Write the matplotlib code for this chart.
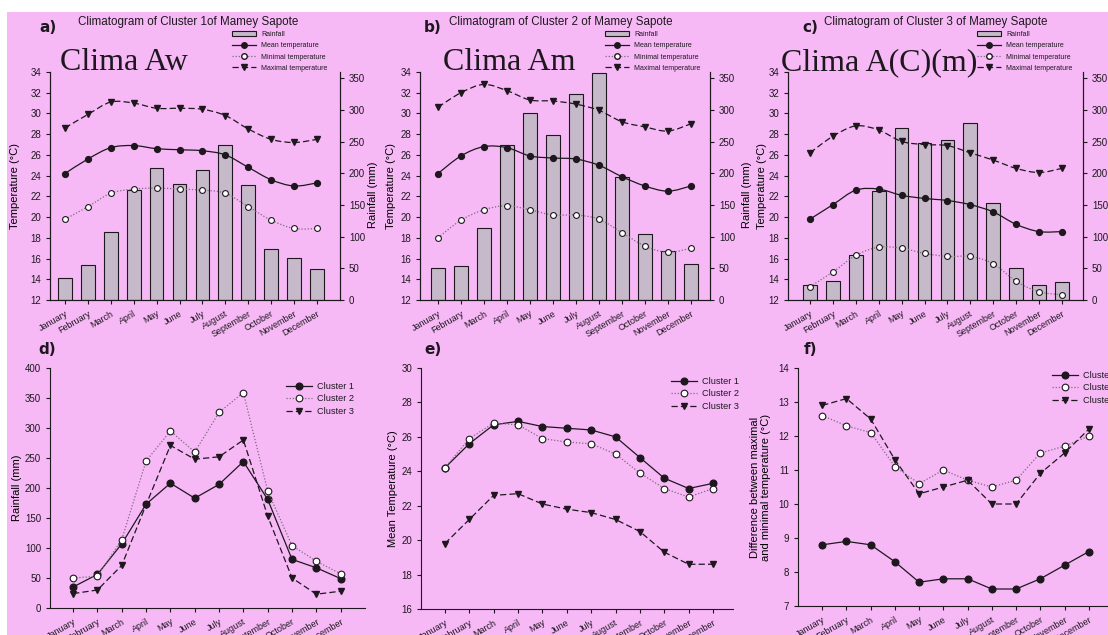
import matplotlib
matplotlib.use("Agg")
import matplotlib.pyplot as plt
from matplotlib.path import Path
from matplotlib.patches import PathPatch, Rectangle
from matplotlib.lines import Line2D

months = ["January", "February", "March", "April", "May", "June", "July",
          "August", "September", "October", "November", "December"]

# rainfall (mm)
rain_c1 = [35, 56, 107, 173, 208, 183, 206, 244, 181, 81, 67, 49]
rain_c2 = [50, 53, 114, 245, 295, 260, 326, 359, 195, 104, 78, 57]
rain_c3 = [24, 30, 71, 172, 271, 248, 252, 280, 153, 50, 23, 28]

# temperatures (degC)
mean_c1 = [24.2, 25.6, 26.7, 26.9, 26.6, 26.5, 26.4, 26.0, 24.8, 23.6, 23.0, 23.3]
min_c1 = [19.8, 21.0, 22.3, 22.7, 22.8, 22.7, 22.6, 22.3, 21.0, 19.7, 18.9, 18.9]
max_c1 = [28.6, 29.9, 31.1, 31.0, 30.5, 30.5, 30.4, 29.8, 28.5, 27.5, 27.2, 27.5]

mean_c2 = [24.2, 25.9, 26.8, 26.7, 25.9, 25.7, 25.6, 25.0, 23.9, 23.0, 22.5, 23.0]
min_c2 = [18.0, 19.7, 20.7, 21.1, 20.7, 20.2, 20.2, 19.8, 18.5, 17.2, 16.6, 17.0]
max_c2 = [30.6, 32.0, 32.8, 32.2, 31.3, 31.2, 30.9, 30.3, 29.2, 28.7, 28.3, 29.0]

mean_c3 = [19.8, 21.2, 22.6, 22.7, 22.1, 21.8, 21.6, 21.2, 20.5, 19.3, 18.6, 18.6]
min_c3 = [13.3, 14.7, 16.3, 17.1, 17.0, 16.5, 16.2, 16.2, 15.5, 13.8, 12.8, 12.5]
max_c3 = [26.2, 27.8, 28.8, 28.4, 27.3, 27.0, 26.9, 26.2, 25.5, 24.7, 24.3, 24.7]

# max - min difference (degC)
diff_c1 = [8.8, 8.9, 8.8, 8.3, 7.7, 7.8, 7.8, 7.5, 7.5, 7.8, 8.2, 8.6]
diff_c2 = [12.6, 12.3, 12.1, 11.1, 10.6, 11.0, 10.7, 10.5, 10.7, 11.5, 11.7, 12.0]
diff_c3 = [12.9, 13.1, 12.5, 11.3, 10.3, 10.5, 10.7, 10.0, 10.0, 10.9, 11.5, 12.2]

W, H = 1108, 635
PINK = "#f6b9f6"
INK = "#1e181e"
BAR = "#c6b9ca"
GREY = "#7c6c7c"

plt.rcParams["font.family"] = ["Liberation Sans", "DejaVu Sans"]
plt.rcParams["text.color"] = INK
plt.rcParams["axes.edgecolor"] = INK
plt.rcParams["xtick.color"] = INK
plt.rcParams["ytick.color"] = INK

fig = plt.figure(figsize=(W / 100, H / 100), dpi=100)
fig.patch.set_facecolor("white")
fig.patches.append(Rectangle((7 / W, 0), 1, 1 - 12 / H, transform=fig.transFigure,
                             facecolor=PINK, edgecolor="none", zorder=-10))


def box(left, top, right, bottom):
    return [left / W, 1 - bottom / H, (right - left) / W, (bottom - top) / H]


def smooth(ax, x, y, **kw):
    # catmull-rom curve drawn as bezier path through the data points
    verts = [(x[0], y[0])]
    codes = [Path.MOVETO]
    n = len(x)
    for i in range(n - 1):
        p0 = (x[max(i - 1, 0)], y[max(i - 1, 0)])
        p1 = (x[i], y[i])
        p2 = (x[i + 1], y[i + 1])
        p3 = (x[min(i + 2, n - 1)], y[min(i + 2, n - 1)])
        c1 = (p1[0] + (p2[0] - p0[0]) / 6, p1[1] + (p2[1] - p0[1]) / 6)
        c2 = (p2[0] - (p3[0] - p1[0]) / 6, p2[1] - (p3[1] - p1[1]) / 6)
        verts += [c1, c2, p2]
        codes += [Path.CURVE4] * 3
    ax.add_patch(PathPatch(Path(verts, codes), facecolor="none", **kw))


def month_ticks(ax, size):
    ax.set_xticks(range(12))
    ax.set_xticklabels(months, rotation=30, ha="right", rotation_mode="anchor",
                       fontsize=size)


def climatogram(pos, xlim, rain, tmean, tmin, tmax, letter, title, clima,
                tx, lx, clima_x, leg_x, lab_l, lab_r):
    ax = fig.add_axes(box(*pos))
    ax.set_facecolor("none")
    ax2 = ax.twinx()
    x = list(range(12))
    ax2.bar(x, rain, width=0.6, color=BAR, edgecolor=INK, linewidth=0.8, zorder=1)
    ax2.set_ylim(0, 360)
    ax2.set_yticks(range(0, 351, 50))
    ax2.tick_params(labelsize=7, length=3)
    ax2.set_ylabel("Rainfall (mm)", fontsize=8, rotation=90)
    ax2.yaxis.set_label_coords(lab_r, 0.46)
    ax.set_zorder(ax2.get_zorder() + 1)

    smooth(ax, x, tmax, edgecolor=INK, lw=0.9, ls=(0, (5, 2.5)))
    smooth(ax, x, tmean, edgecolor=INK, lw=0.9)
    smooth(ax, x, tmin, edgecolor=GREY, lw=0.9, ls=(0, (1, 1.5)))
    ax.plot(x, tmax, ls="none", marker="v", ms=4.2, color=INK)
    ax.plot(x, tmean, ls="none", marker="o", ms=4.2, color=INK)
    ax.plot(x, tmin, ls="none", marker="o", ms=4.2, mfc="white", mec=INK, mew=0.8)

    ax.set_xlim(*xlim)
    ax.set_ylim(12, 34)
    ax.set_yticks(range(12, 35, 2))
    ax.tick_params(labelsize=7, length=3)
    month_ticks(ax, 6.5)
    ax.set_ylabel("Temperature (\u00b0C)", fontsize=8)
    ax.yaxis.set_label_coords(lab_l, 0.5)
    for a in (ax, ax2):
        a.spines["top"].set_visible(False)

    fig.text(lx / W, 1 - 27 / H, letter, fontsize=11, fontweight="bold",
             family="DejaVu Sans", va="center")
    fig.text(tx / W, 1 - 22 / H, title, fontsize=8.4, ha="center", va="center")
    fig.text(clima_x / W, 1 - 63 / H, clima, fontsize=23, family="Liberation Serif",
             va="center")

    handles = [Rectangle((0, 0), 1, 1, facecolor=BAR, edgecolor=INK, lw=0.8),
               Line2D([], [], color=INK, lw=0.9, marker="o", ms=4),
               Line2D([], [], color=GREY, lw=0.9, ls=(0, (1, 1.5)), marker="o", ms=4,
                      mfc="white", mec=INK),
               Line2D([], [], color=INK, lw=0.9, ls=(0, (5, 2.5)), marker="v", ms=4)]
    fig.legend(handles, ["Rainfall", "Mean temperature", "Minimal temperature",
                         "Maximal temperature"],
               loc="upper left", bbox_to_anchor=(leg_x / W, 1 - 31 / H),
               frameon=False, fontsize=5.0, labelspacing=0.62, handlelength=3.4,
               handletextpad=0.8, borderpad=0, borderaxespad=0)


climatogram((50, 72, 340, 300), (-0.65, 12.0), rain_c1, mean_c1, min_c1, max_c1,
            "a)", "Climatogram of Cluster 1of Mamey Sapote", "Clima Aw",
            188, 39, 60, 232, -0.103, 1.097)
climatogram((420, 72, 710, 300), (-0.78, 11.83), rain_c2, mean_c2, min_c2, max_c2,
            "b)", "Climatogram of Cluster 2 of Mamey Sapote", "Clima Am",
            561, 424, 443, 605, -0.083, 1.11)
climatogram((788, 72, 1083, 300), (-0.96, 11.92), rain_c3, mean_c3, min_c3, max_c3,
            "c)", "Climatogram of Cluster 3 of Mamey Sapote", "Clima A(C)(m)",
            936, 802, 781, 977, -0.071, 1.12)


def cluster_panel(pos, xlim, ylim, yticks, s1, s2, s3, letter, lx, ylabel, lab_x, leg):
    ax = fig.add_axes(box(*pos))
    ax.set_facecolor("none")
    x = list(range(12))
    ax.plot(x, s1, color=INK, lw=0.9, marker="o", ms=4.8, label="Cluster 1")
    ax.plot(x, s2, color=GREY, lw=0.9, ls=(0, (1, 1.5)), marker="o", ms=4.8,
            mfc="white", mec=INK, mew=0.8, label="Cluster 2")
    ax.plot(x, s3, color=INK, lw=0.9, ls=(0, (5, 2.5)), marker="v", ms=4.8,
            label="Cluster 3")
    ax.set_xlim(*xlim)
    ax.set_ylim(*ylim)
    ax.set_yticks(yticks)
    ax.tick_params(labelsize=7, length=3)
    month_ticks(ax, 6.5)
    ax.spines["top"].set_visible(False)
    ax.spines["right"].set_visible(False)
    ax.set_ylabel(ylabel, fontsize=8, linespacing=1.1)
    ax.yaxis.set_label_coords(lab_x, 0.5)
    fig.text(lx / W, 1 - 350 / H, letter, fontsize=11, fontweight="bold",
             family="DejaVu Sans", va="center")
    fig.legend(*ax.get_legend_handles_labels(), loc="upper left",
               bbox_to_anchor=(leg[0] / W, 1 - leg[1] / H), frameon=False,
               fontsize=6.6, labelspacing=0.38, handlelength=2.8, handletextpad=0.6,
               borderpad=0, borderaxespad=0)


cluster_panel((50, 368, 365, 608), (-0.95, 12.0), (0, 400), range(0, 401, 50),
              rain_c1, rain_c2, rain_c3, "d)", 38, "Rainfall (mm)", -0.089, (286, 382))
cluster_panel((421, 368, 733, 609), (-0.98, 11.82), (16, 30), range(16, 31, 2),
              mean_c1, mean_c2, mean_c3, "e)", 424, "Mean Temperature (\u00b0C)", -0.074,
              (671, 377))
cluster_panel((798, 368, 1113, 606), (-1.0, 12.0), (7, 14), range(7, 15),
              diff_c1, diff_c2, diff_c3, "f)", 804,
              "Difference between maximal\nand minimal temperature (\u00b0C)", -0.086,
              (1052, 371))

fig.savefig("out.png", dpi=100, facecolor=fig.get_facecolor())
